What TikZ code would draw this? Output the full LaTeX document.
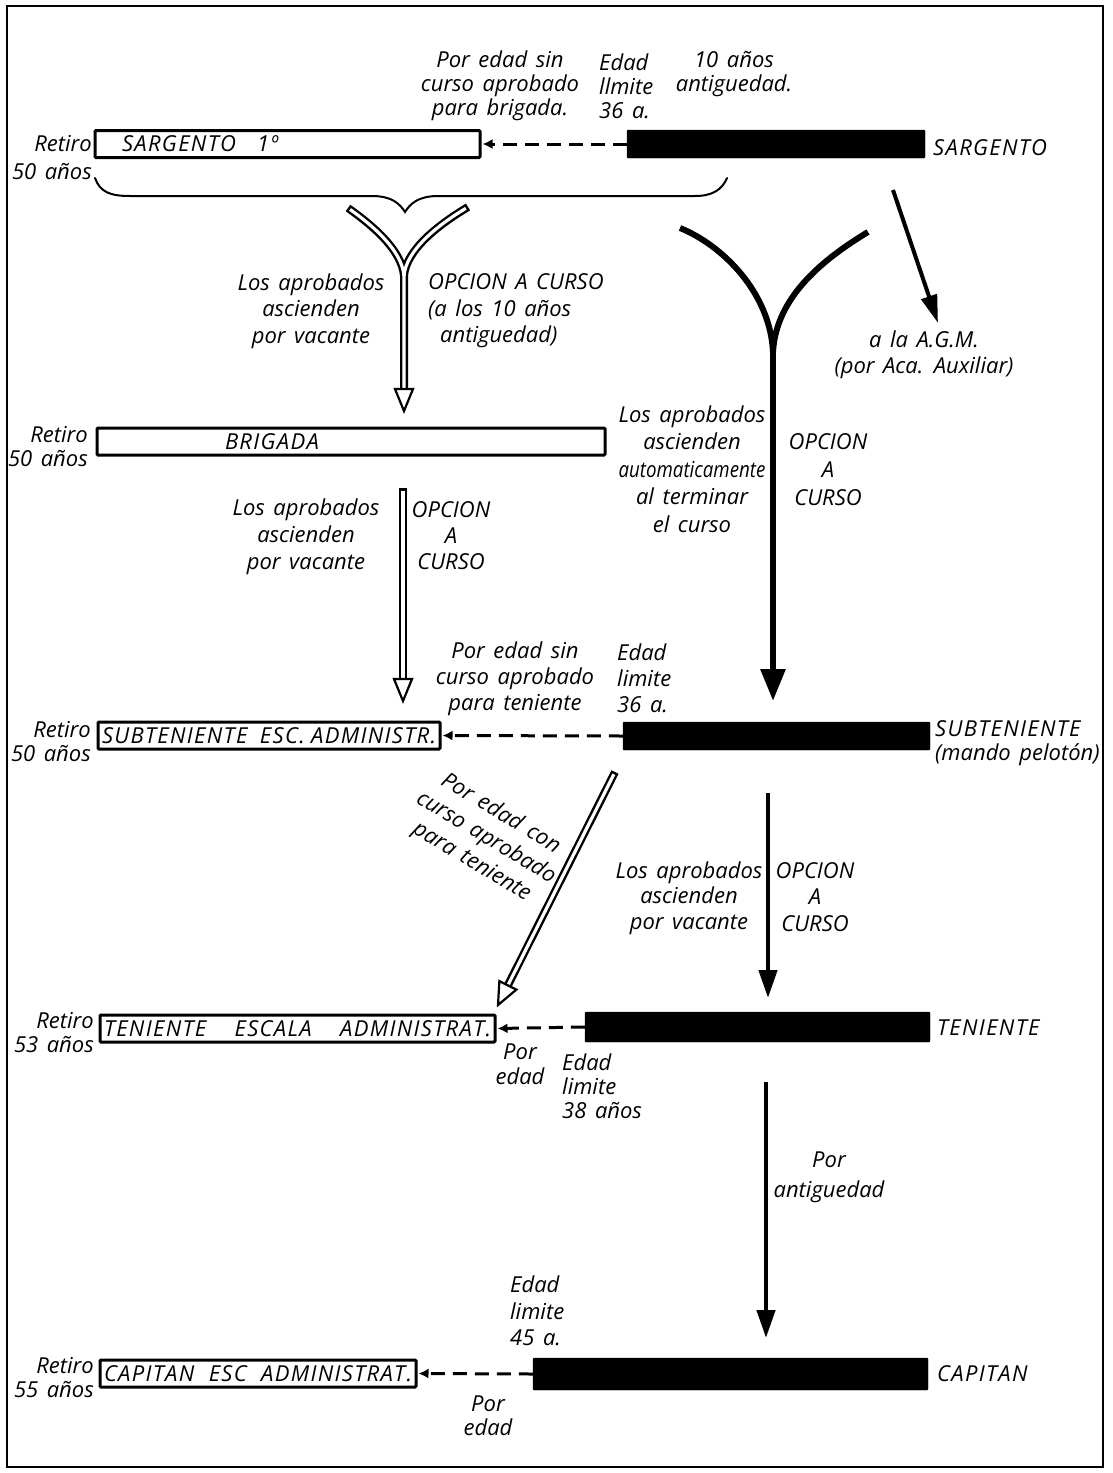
\documentclass[tikz,border=0pt]{standalone}
\usepackage{fontspec}
\usepackage{graphicx}
\setmainfont{Open Sans}[WordSpace=1.5]
\newfontfamily\capsfont{Open Sans}[LetterSpace=6]
\usetikzlibrary{arrows.meta,calc}
\begin{document}
\begin{tikzpicture}[x=1pt,y=-1pt,
  lbl/.style={font=\itshape\fontsize{22}{#1}\selectfont, inner sep=0pt, align=center},
  lbl/.default=26,
  lbll/.style={lbl=#1, align=left}, lbll/.default=26,
  lblr/.style={lbl=#1, align=right}, lblr/.default=26,
  rank/.style={font=\capsfont\itshape\fontsize{22}{#1}\selectfont, inner sep=0pt, align=left},
  rank/.default=26,
  wbox/.style={draw, line width=3pt, inner xsep=4pt, inner ysep=0pt, minimum height=27pt,
               font=\capsfont\itshape\fontsize{22}{24}\selectfont, rounded corners=1pt},
  bbar/.style={fill=black, draw=black, inner sep=0pt, rounded corners=1pt},
  dasharr/.style={line width=3pt, dash pattern=on 14pt off 8pt, -{Latex[length=10pt,width=10pt]}, shorten >=1pt},
  blackarr/.style={line width=4.5pt, -{Triangle[length=28pt,width=18pt]}},
  holout/.style={line width=8pt},
  holin/.style={line width=3.2pt, white, shorten <=2.5pt},
  holhead/.style={line width=2.2pt, fill=white, line join=miter},
  bracestyle/.style={line width=2pt, line cap=round},
  thickY/.style={line width=6pt}
]
\useasboundingbox (0,0) rectangle (1113,1473);
\draw[line width=2pt] (7,6) rectangle (1103,1467);

% ---------- boxes ----------
\node[wbox] (s1) at (287.5,144) {\makebox[377pt][l]{\hspace*{23pt}SARGENTO\ \ \ 1º}};
\node[wbox] (br) at (351,441.5) {\makebox[500pt][l]{\hspace*{124pt}BRIGADA}};
\node[wbox] (se) at (269,735.5) {\makebox[334pt][s]{SUBTENIENTE\ \ ESC.\ ADMINISTR.}};
\node[wbox] (te) at (297.5,1028.5) {\makebox[387pt][s]{TENIENTE\ \ ESCALA\ \ ADMINISTRAT.}};
\node[wbox] (ce) at (258,1373.5) {\makebox[308pt][s]{CAPITAN\ \ ESC\ \ ADMINISTRAT.}};

\node[bbar, minimum width=298pt, minimum height=28pt] (b1) at (776,144) {};
\node[bbar, minimum width=307pt, minimum height=28pt] (b2) at (776.5,736) {};
\node[bbar, minimum width=345pt, minimum height=30pt] (b3) at (757.5,1027) {};
\node[bbar, minimum width=395pt, minimum height=32pt] (b4) at (730.5,1374) {};

% ---------- dashed arrows ----------
\draw[dasharr] (b1.west) -- (s1.east);
\draw[dasharr] (b2.west) -- (se.east);
\draw[dasharr] (b3.west) -- (te.east);
\draw[dasharr] (b4.west) -- (ce.east);

% ---------- labels left (Retiro) ----------
\node[lblr=28, anchor=east] (r1) at (92,158) {Retiro\\50 años};
\node[lblr=24, anchor=east] (r2) at (88,447) {Retiro\\50 años};
\node[lblr=24, anchor=east] (r3) at (91,742) {Retiro\\50 años};
\node[lblr=24, anchor=east] (r4) at (94,1033) {Retiro\\53 años};
\node[lblr=24, anchor=east] (r5) at (94,1378) {Retiro\\55 años};

% ---------- rank labels ----------
\node[rank, anchor=west] (k1) at (933,148) {SARGENTO};
\node[rank=24, anchor=west] (k2) at (935,743) {SUBTENIENTE\\{\rmfamily\itshape(mando pelotón)}};
\node[rank, anchor=west] (k3) at (937,1028) {TENIENTE};
\node[rank, anchor=west] (k4) at (937,1374) {CAPITAN};

% ---------- brace ----------
\draw[bracestyle] (95,178) .. controls (100,192) and (110,196) .. (130,196) -- (372,196)
   .. controls (392,196) and (400,204) .. (405,212)
   .. controls (410,204) and (418,196) .. (438,196) -- (695,196)
   .. controls (712,196) and (722,190) .. (727,178);

% ---------- hollow Y arrow (Sargento 1o -> Brigada) ----------
\coordinate (y1l) at (348,208);
\coordinate (y1r) at (468,207);
\coordinate (y1j) at (404,276);
\coordinate (y1b) at (404,389);
\coordinate (y1t) at (404,411);
\draw[holout] (y1l) .. controls (372,225) and (402,250) .. (y1j) -- (y1b);
\draw[holout] (y1r) .. controls (438,225) and (406,250) .. (y1j);
\draw[holin] (y1l) .. controls (372,225) and (402,250) .. (y1j) -- (y1b);
\draw[holin] (y1r) .. controls (438,225) and (406,250) .. (y1j);
\draw[holhead] (395,389) -- (413,389) -- (y1t) -- cycle;

% ---------- black Y arrow (Sargento -> Subteniente) ----------
\coordinate (y2l) at (680,228);
\coordinate (y2r) at (868,232);
\coordinate (y2j) at (773,352);
\coordinate (y2t) at (773,701);
\draw[thickY] (y2l) .. controls (722,245) and (770,292) .. (y2j);
\draw[thickY] (y2r) .. controls (825,258) and (776,296) .. (y2j);
\draw[thickY, -{Triangle[length=32pt,width=24pt]}] (773,340) -- (y2t);

% ---------- A.G.M. arrow ----------
\coordinate (agms) at (893,190);
\coordinate (agmt) at (938,323);
\draw[line width=4pt, -{Triangle[length=28pt,width=16pt]}] (agms) -- (agmt);

% ---------- hollow arrow Brigada -> Subteniente esc ----------
\coordinate (h2s) at (403,488);
\coordinate (h2b) at (403,679);
\coordinate (h2t) at (403,701);
\draw[holout] (h2s) -- (h2b);
\draw[holin] (h2s) -- (h2b);
\draw[holhead] (394,679) -- (412,679) -- (h2t) -- cycle;

% ---------- diagonal hollow arrow ----------
\coordinate (dgs) at (615,772);
\coordinate (dgt) at (498,1005);
\coordinate (dgb) at ($(dgt)!22pt!(dgs)$);
\draw[holout] (dgs) -- (dgb);
\draw[holin] (dgs) -- (dgb);
\draw[holhead] ($(dgb)!9.5pt!90:(dgt)$) -- ($(dgb)!9.5pt!-90:(dgt)$) -- (dgt) -- cycle;

% ---------- black arrows lower ----------
\coordinate (a3s) at (768,793);
\coordinate (a3t) at (768,998);
\draw[blackarr] (a3s) -- (a3t);
\coordinate (a4s) at (766,1082);
\coordinate (a4t) at (766,1338);
\draw[blackarr] (a4s) -- (a4t);

% ---------- texts ----------
\node[lbl=24] (t1) at (500,86) {Por edad sin\\curso aprobado\\para brigada.};
\node[lbll=24, anchor=west] (t2) at (599,86) {Edad\\llmite\\36 a.};
\node[lbl=24] (t3) at (734,74) {10 años\\antiguedad.};
\node[lbl=26.5] (t4) at (311,311) {Los aprobados\\ascienden\\por vacante};
\node[lbll=26.5, anchor=west] (t5) at (428,311) {OPCION A CURSO\\(a los 10 años\\\hspace*{12pt}antiguedad)};
\node[lbl=26] (t6) at (924,355) {a la A.G.M.\\(por Aca. Auxiliar)};
\node[lbl=27.5] (t7) at (692,469) {Los aprobados\\ascienden\\\scalebox{0.85}[1]{automaticamente}\\al terminar\\el curso};
\node[lbl=28] (t8) at (828,470) {OPCION\\A\\CURSO};
\node[lbl=27] (t9) at (306,537) {Los aprobados\\ascienden\\por vacante};
\node[lbl=26] (t10) at (451,536) {OPCION\\A\\CURSO};
\node[lbl=26] (t11) at (515,679) {Por edad sin\\curso aprobado\\para teniente};
\node[lbll=26, anchor=west] (t12) at (617,678) {Edad\\limite\\36 a.};
\node[lbl=28, rotate=-31] (t13) at (486,838) {Por edad con\\curso aprobado\\para teniente};
\node[lbl=25.5] (t14) at (689,898) {Los aprobados\\ascienden\\por vacante};
\node[lbl=26.5] (t15) at (815,897) {OPCION\\A\\CURSO};
\node[lbl=25] (t16) at (520,1064) {Por\\edad};
\node[lbll=24, anchor=west] (t17) at (562,1086) {Edad\\limite\\38 años};
\node[lbl=30] (t18) at (829,1177) {Por\\antiguedad};
\node[lbll=26.5, anchor=west] (t19) at (510,1311) {Edad\\limite\\45 a.};
\node[lbl=24] (t20) at (488,1416) {Por\\edad};
\end{tikzpicture}
\end{document}
